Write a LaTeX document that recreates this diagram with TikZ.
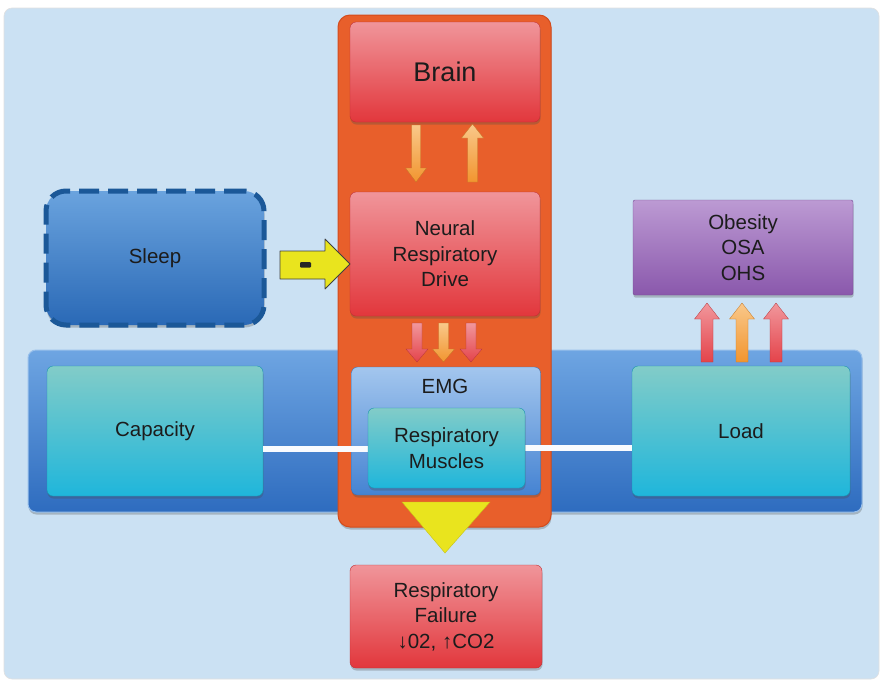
\documentclass[tikz,border=0pt]{standalone}
\usepackage{fontspec}
\setmainfont{Liberation Sans}
\usetikzlibrary{shadows}
\definecolor{bgblue}{HTML}{CBE1F3}
\definecolor{colorange}{HTML}{E85F2B}
\definecolor{colborder}{HTML}{D44C1C}
\definecolor{redtop}{HTML}{F0959A}
\definecolor{redbot}{HTML}{E2373C}
\definecolor{bandtop}{HTML}{6EA5E2}
\definecolor{bandbot}{HTML}{2E6CBF}
\definecolor{tealtop}{HTML}{82CCC8}
\definecolor{tealbot}{HTML}{1FB6DB}
\definecolor{emgtop}{HTML}{A3C6EE}
\definecolor{emgbot}{HTML}{4583D2}
\definecolor{sleeptop}{HTML}{6AA3DE}
\definecolor{sleepbot}{HTML}{2A69B6}
\definecolor{sleepedge}{HTML}{1B5898}
\definecolor{purtop}{HTML}{BC9AD3}
\definecolor{purbot}{HTML}{8A58AC}
\definecolor{ortop}{HTML}{F9C88A}
\definecolor{orbot}{HTML}{F2952F}
\definecolor{rdtop}{HTML}{F1979C}
\definecolor{rdbot}{HTML}{E4434A}
\definecolor{yel}{HTML}{E9E41E}
\definecolor{txt}{HTML}{1C1C1C}
\newcommand\BlkArrowV[7]{% cx, ytail, ytip, shaft half, head half, head length, colour pair
  \path[shade, top color=#7top, bottom color=#7bot, draw=#7bot!80!black, line width=0.3pt]
    ({#1-#4},#2) -- ({#1+#4},#2) -- ({#1+#4},{#3-#6*sign(#3-#2)})
    -- ({#1+#5},{#3-#6*sign(#3-#2)}) -- (#1,#3) -- ({#1-#5},{#3-#6*sign(#3-#2)})
    -- ({#1-#4},{#3-#6*sign(#3-#2)}) -- cycle;}
\tikzset{
  box/.style={rectangle, rounded corners=6, inner sep=0, align=center, text=txt,
    font=\fontsize{20.5}{25.5}\selectfont,
    drop shadow={shadow xshift=0.5pt, shadow yshift=-2.5pt, opacity=0.3, fill=black!70}},
  redbox/.style={box, top color=redtop, bottom color=redbot, draw=redbot!85!black, line width=0.4pt},
  tealbox/.style={box, top color=tealtop, bottom color=tealbot, draw=tealbot!80!black, line width=0.4pt},
  link/.style={line width=6pt, draw=white!88!bgblue}
}
\begin{document}
\begin{tikzpicture}[x=1pt,y=-1pt]
\useasboundingbox (0,0) rectangle (881,681);
\fill[white] (0,0) rectangle (881,681);
\node[rectangle, rounded corners=8, fill=bgblue, draw=black!12, line width=0.6pt, minimum width=875pt, minimum height=671pt, inner sep=0] (bg) at (441.5,343.5) {};
% blue band
\node[box, rounded corners=8, top color=bandtop, bottom color=bandbot, draw=bandtop!70!white, line width=1pt,
  minimum width=834pt, minimum height=162pt] (band) at (445,431) {};
% orange column
\node[box, rounded corners=12, fill=colorange, draw=colborder, line width=1pt,
  minimum width=213pt, minimum height=512pt] (col) at (444.5,271) {};
% boxes in column
\node[redbox, minimum width=190pt, minimum height=100pt, font=\fontsize{27}{30}\selectfont] (brain) at (445,72) {Brain};
\node[redbox, minimum width=190pt, minimum height=124pt] (nrd) at (445,254) {Neural\\Respiratory\\Drive};
\node[box, top color=emgtop, bottom color=emgbot, draw=emgbot!85!black, line width=0.4pt,
  minimum width=189pt, minimum height=128pt] (emg) at (446,431) {};
\node[inner sep=0, text=txt, font=\fontsize{20.5}{25.5}\selectfont] (emglbl) at (445,386) {EMG};
% sleep
\node[box, rounded corners=20, top color=sleeptop, bottom color=sleepbot, draw=sleepedge, line width=5pt,
  dash pattern=on 20pt off 9pt, minimum width=218pt, minimum height=134pt] (sleep) at (155,258) {Sleep};
% capacity / load
\node[tealbox, minimum width=216pt, minimum height=130pt] (cap) at (155,431) {Capacity};
\node[tealbox, minimum width=218pt, minimum height=130pt] (load) at (741,431) {Load};
% links
\draw[link] (cap.east |- 0,449) coordinate (capr) -- (368,449) coordinate (musl);
\draw[link] (525,448) coordinate (muscr) -- (load.west |- 0,448) coordinate (loadl);
\node[tealbox, minimum width=157pt, minimum height=80pt] (musc) at (446.5,448) {Respiratory\\Muscles};
% obesity
\node[box, rounded corners=2, top color=purtop, bottom color=purbot, draw=purbot!85!black, line width=0.4pt,
  minimum width=220pt, minimum height=95pt] (obes) at (743,247.5) {Obesity\\OSA\\OHS};
% failure
\node[redbox, minimum width=192pt, minimum height=103pt] (fail) at (446,616.5) {Respiratory\\Failure\\↓02, ↑CO2};
% arrows brain <-> nrd
\BlkArrowV{416}{125}{182}{4.5}{10.5}{14}{or}
\BlkArrowV{472.5}{182}{124}{5}{11}{14}{or}
% arrows nrd -> emg
\BlkArrowV{417}{323}{362}{5}{11}{13}{rd}
\BlkArrowV{443.5}{323}{362}{5}{11}{13}{or}
\BlkArrowV{471}{323}{362}{5}{11}{13}{rd}
% arrows load -> obesity
\BlkArrowV{707}{362}{303}{6}{12.5}{16}{rd}
\BlkArrowV{742}{362}{303}{6}{12.5}{16}{or}
\BlkArrowV{776}{362}{303}{6}{12.5}{16}{rd}
% yellow arrow sleep -> nrd
\path[fill=yel, draw=black!75, line width=0.8pt, line join=round]
  (280,251) -- (325,251) -- (325,239) -- (350,264) -- (325,289) -- (325,279) -- (280,279) -- cycle;
\fill[black!85, rounded corners=1] (300,262) rectangle (311,267.5);
% yellow triangle
\path[fill=yel, draw=yel!85!black, line width=0.4pt] (402,502) -- (490,502) -- (445,553) -- cycle;
\end{tikzpicture}
\end{document}
